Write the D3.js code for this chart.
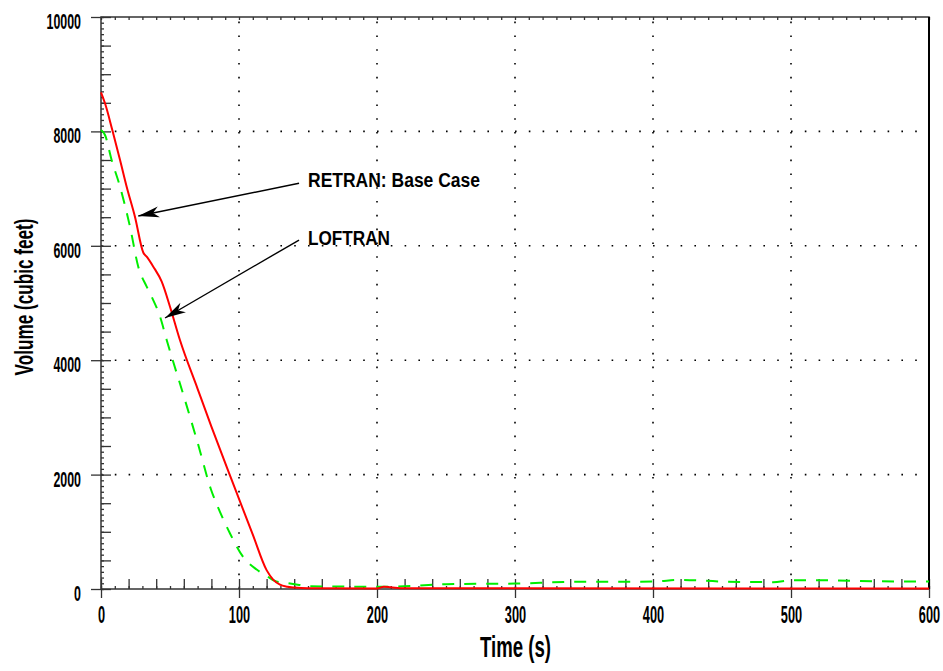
<!DOCTYPE html>
<html>
<head>
<meta charset="utf-8">
<script src="https://cdn.jsdelivr.net/npm/d3@7"></script>
<style>
  body { margin: 0; background: #fff; }
  text { font-family: "Liberation Sans Narrow", "Arial Narrow", "Liberation Sans", Arial, sans-serif; font-weight: bold; fill: #000; }
</style>
</head>
<body>
<div id="chart"></div>
<script>
// RETRAN: Base Case (red, solid)
const retranTime   = [0, 2.9, 8.2, 13.8, 18.6, 24.6, 30.7, 33.1, 37.9, 44, 50, 57.2, 70, 80, 94.7, 110, 120, 124.9, 129.7, 135, 140, 150, 200, 205, 210, 220, 600];
const retranVolume = [8684, 8491, 8024, 7500, 7033, 6509, 5879, 5810, 5635, 5372, 4935, 4353, 3500, 2840, 1906, 950, 330, 160, 75, 40, 25, 12, 10, 40, 30, 12, 10];

// LOFTRAN (green, dashed)
const loftranTime   = [0, 2.9, 7.7, 13.8, 21, 27, 33.1, 36.7, 42.8, 47.6, 60, 70, 79.7, 86.2, 93.5, 103, 112.8, 120, 127, 134.5, 144, 150, 200, 228, 250, 300, 340, 400, 420, 450, 487, 500, 520, 560, 600];
const loftranVolume = [8024, 7937, 7500, 7033, 6334, 5635, 5285, 5110, 4760, 4353, 3370, 2560, 1740, 1350, 970, 560, 340, 230, 130, 105, 70, 47, 40, 55, 85, 95, 125, 130, 160, 130, 120, 150, 155, 135, 130];

const xTicks = [0, 100, 200, 300, 400, 500, 600];
const yTicks = [0, 2000, 4000, 6000, 8000, 10000];
const seriesNames = ["RETRAN: Base Case", "LOFTRAN"];

const width = 943, height = 671;
const margin = { top: 17, right: 14, bottom: 82, left: 101 };
const fmt = d3.format("d");

const svg = d3.select("#chart")
    .append("svg")
    .attr("width", width)
    .attr("height", height)
    .style("background", "#fff");

const x = d3.scaleLinear().domain([0, 600]).range([margin.left, width - margin.right]);
const y = d3.scaleLinear().domain([0, 10000]).range([height - margin.bottom, margin.top]);

// dotted grid
svg.append("g").selectAll("line")
    .data(xTicks.filter(d => d > 0 && d < 600))
    .join("line")
    .attr("x1", d => x(d)).attr("x2", d => x(d))
    .attr("y1", y(0)).attr("y2", y(10000))
    .attr("stroke", "#000").attr("stroke-width", 1.6)
    .attr("stroke-dasharray", "1.6,12.2");

svg.append("g").selectAll("line")
    .data(yTicks.filter(d => d > 0 && d < 10000))
    .join("line")
    .attr("x1", x(0)).attr("x2", x(600))
    .attr("y1", d => y(d)).attr("y2", d => y(d))
    .attr("stroke", "#000").attr("stroke-width", 1.6)
    .attr("stroke-dasharray", "1.6,12.2");

// helper for tick-only axes
function ticksOnly(axis, tf) {
    svg.append("g")
        .attr("transform", tf)
        .call(axis.tickFormat(""))
        .call(g => g.select(".domain").remove())
        .call(g => g.selectAll("line").attr("stroke", "#333").attr("stroke-width", 1.3));
}

// minor ticks (inside)
ticksOnly(d3.axisTop(x).tickValues(d3.range(0, 601, 20)).tickSize(10), `translate(0,${y(0)})`);
ticksOnly(d3.axisTop(x).tickValues(d3.range(0, 601, 10)).tickSize(3), `translate(0,${y(0)})`);
ticksOnly(d3.axisBottom(x).tickValues(d3.range(0, 601, 10)).tickSize(3), `translate(0,${y(10000)})`);
ticksOnly(d3.axisRight(y).tickValues(d3.range(0, 10001, 500)).tickSize(10), `translate(${x(0)},0)`);
ticksOnly(d3.axisRight(y).tickValues(d3.range(0, 10001, 100)).tickSize(3), `translate(${x(0)},0)`);

// major axes
const xAxis = svg.append("g")
    .attr("transform", `translate(0,${y(0)})`)
    .call(d3.axisBottom(x).tickValues(xTicks).tickSize(9).tickFormat(fmt))
    .call(g => g.select(".domain").remove());
xAxis.selectAll("line").attr("stroke", "#333").attr("stroke-width", 1.3);
xAxis.selectAll("text")
    .attr("y", 34).attr("dy", 0)
    .style("font-size", "23px")
    .attr("textLength", d => fmt(d).length * 7.1)
    .attr("lengthAdjust", "spacingAndGlyphs");

const yAxis = svg.append("g")
    .attr("transform", `translate(${x(0)},0)`)
    .call(d3.axisLeft(y).tickValues(yTicks).tickSize(10).tickFormat(fmt))
    .call(g => g.select(".domain").remove());
yAxis.selectAll("line").attr("stroke", "#333").attr("stroke-width", 1.3);
yAxis.selectAll("text")
    .attr("x", -20).attr("y", 11.5).attr("dy", 0)
    .style("font-size", "22px")
    .attr("textLength", d => fmt(d).length * 6.9)
    .attr("lengthAdjust", "spacingAndGlyphs");

// frame
svg.append("rect")
    .attr("x", x(0)).attr("y", y(10000))
    .attr("width", x(600) - x(0)).attr("height", y(0) - y(10000))
    .attr("fill", "none").attr("stroke", "#333").attr("stroke-width", 1.5);
svg.append("line")
    .attr("x1", x(600)).attr("x2", x(600)).attr("y1", y(10000)).attr("y2", y(0))
    .attr("stroke", "#000").attr("stroke-width", 2);

// axis titles
svg.append("text")
    .attr("x", (x(0) + x(600)) / 2 + 0.5)
    .attr("y", 657)
    .attr("text-anchor", "middle")
    .style("font-size", "29px")
    .attr("textLength", 71).attr("lengthAdjust", "spacingAndGlyphs")
    .text("Time (s)");

svg.append("text")
    .attr("transform", "translate(33,297) rotate(-90)")
    .attr("text-anchor", "middle")
    .style("font-size", "25px")
    .attr("textLength", 157).attr("lengthAdjust", "spacingAndGlyphs")
    .text("Volume (cubic feet)");

// lines
const line = d3.line().x(d => x(d[0])).y(d => y(d[1])).curve(d3.curveMonotoneX);

svg.append("path")
    .datum(d3.zip(loftranTime, loftranVolume))
    .attr("d", line)
    .attr("fill", "none").attr("stroke", "#00ee00").attr("stroke-width", 2)
    .attr("stroke-dasharray", "12,10");

svg.append("path")
    .datum(d3.zip(retranTime, retranVolume))
    .attr("d", line)
    .attr("fill", "none").attr("stroke", "#ff0000").attr("stroke-width", 2);

// annotations (in data units)
svg.append("defs").append("marker")
    .attr("id", "arrow")
    .attr("markerUnits", "userSpaceOnUse")
    .attr("viewBox", "-22 -8 24 16")
    .attr("refX", 0).attr("refY", 0)
    .attr("markerWidth", 24).attr("markerHeight", 16)
    .attr("orient", "auto")
    .append("path")
    .attr("d", "M0,0 L-21,-5.5 L-15,0 L-21,5.5 Z")
    .attr("fill", "#000");

const notes = [
    { label: seriesNames[0], lx: 150, ly: 7028, tail: [143.5, 7093], tip: [27.0, 6521], len: 172 },
    { label: seriesNames[1], lx: 150, ly: 6014, tail: [143.5, 6101], tip: [46.4, 4738], len: 82 }
];

notes.forEach(n => {
    svg.append("line")
        .attr("x1", x(n.tail[0])).attr("y1", y(n.tail[1]))
        .attr("x2", x(n.tip[0])).attr("y2", y(n.tip[1]))
        .attr("stroke", "#000").attr("stroke-width", 1.4)
        .attr("marker-end", "url(#arrow)");
    svg.append("text")
        .attr("x", x(n.lx)).attr("y", y(n.ly))
        .style("font-size", "20px")
        .attr("textLength", n.len).attr("lengthAdjust", "spacingAndGlyphs")
        .text(n.label);
});
</script>
</body>
</html>
